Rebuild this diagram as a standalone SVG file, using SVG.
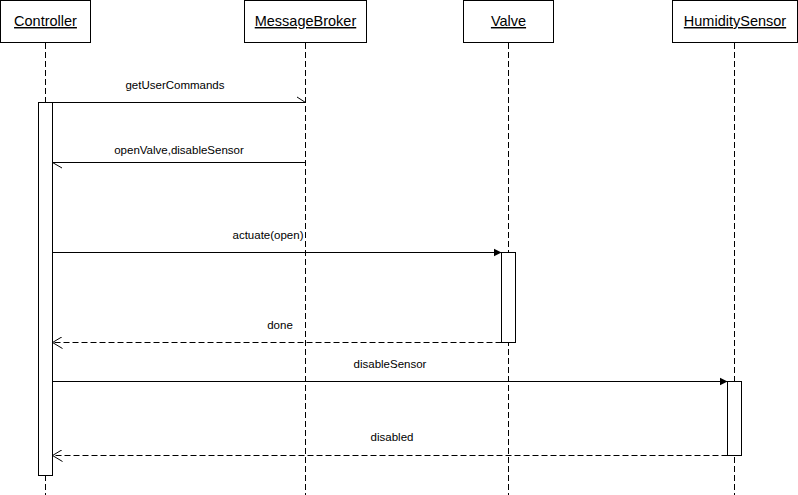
<svg xmlns="http://www.w3.org/2000/svg" width="798" height="495" viewBox="0 0 798 495">
<style>
.box{fill:#fff;stroke:#000;stroke-width:1}
.life{stroke:#000;stroke-width:1;stroke-dasharray:6 3;fill:none}
.act{fill:#fff;stroke:#000;stroke-width:1}
.hdr{font-family:"Liberation Sans",Arial,sans-serif;font-size:14.5px;text-anchor:middle;text-decoration:underline;fill:#000}
.lbl{font-family:"Liberation Sans",Arial,sans-serif;font-size:11.5px;text-anchor:middle;fill:#000}
.msg{stroke:#000;stroke-width:1;fill:none}
.ret{stroke:#000;stroke-width:1;fill:none;stroke-dasharray:6 3}
</style>
<defs>
<marker id="filled" markerWidth="9" markerHeight="9" refX="8" refY="4.5" orient="auto" markerUnits="userSpaceOnUse">
<path d="M0,0.5 L8,4.5 L0,8.5 Z" fill="#000"/>
</marker>
<marker id="open" markerWidth="12" markerHeight="12" refX="10" refY="6" orient="auto" markerUnits="userSpaceOnUse">
<path d="M0,0 L10,6 L0,12" fill="none" stroke="#000" stroke-width="1"/>
</marker>
</defs>
<rect width="798" height="495" fill="#fff"/>
<g id="Controller">
<rect class="box" x="0.5" y="0.5" width="90" height="42"/>
<text class="hdr" x="45.5" y="26">Controller</text>
<line class="life" x1="45.5" y1="43" x2="45.5" y2="495"/>
<rect class="act" x="38.5" y="102.5" width="14" height="373"/>
</g>
<g id="MessageBroker">
<rect class="box" x="244.5" y="0.5" width="122" height="42"/>
<text class="hdr" x="305.5" y="26">MessageBroker</text>
<line class="life" x1="305.5" y1="43" x2="305.5" y2="495"/>
</g>
<g id="Valve">
<rect class="box" x="463.5" y="0.5" width="90" height="42"/>
<text class="hdr" x="508.5" y="26">Valve</text>
<line class="life" x1="508.5" y1="43" x2="508.5" y2="495"/>
<rect class="act" x="501.5" y="252.5" width="14" height="90"/>
</g>
<g id="HumiditySensor">
<rect class="box" x="672.5" y="0.5" width="125" height="42"/>
<text class="hdr" x="735" y="26">HumiditySensor</text>
<line class="life" x1="734.5" y1="43" x2="734.5" y2="495"/>
<rect class="act" x="727.5" y="381.5" width="14" height="74"/>
</g>
<g id="connectors">
<line class="msg" x1="52.5" y1="102.5" x2="305.5" y2="102.5"/>
<line class="msg" x1="297" y1="97" x2="305.5" y2="102.5"/>
<text class="lbl" x="175" y="89">getUserCommands</text>
<line class="msg" x1="305.5" y1="162.5" x2="52.5" y2="162.5"/>
<line class="msg" x1="52.5" y1="162.5" x2="62" y2="168"/>
<text class="lbl" x="179" y="154">openValve,disableSensor</text>
<line class="msg" x1="52.5" y1="252.5" x2="501.5" y2="252.5" marker-end="url(#filled)"/>
<text class="lbl" x="268" y="239">actuate(open)</text>
<line class="ret" x1="501.5" y1="342.5" x2="52.5" y2="342.5" marker-end="url(#open)"/>
<text class="lbl" x="280" y="329">done</text>
<line class="msg" x1="52.5" y1="381.5" x2="727.5" y2="381.5" marker-end="url(#filled)"/>
<text class="lbl" x="390" y="368">disableSensor</text>
<line class="ret" x1="727.5" y1="455.5" x2="52.5" y2="455.5" marker-end="url(#open)"/>
<text class="lbl" x="392" y="441">disabled</text>
</g>
</svg>
